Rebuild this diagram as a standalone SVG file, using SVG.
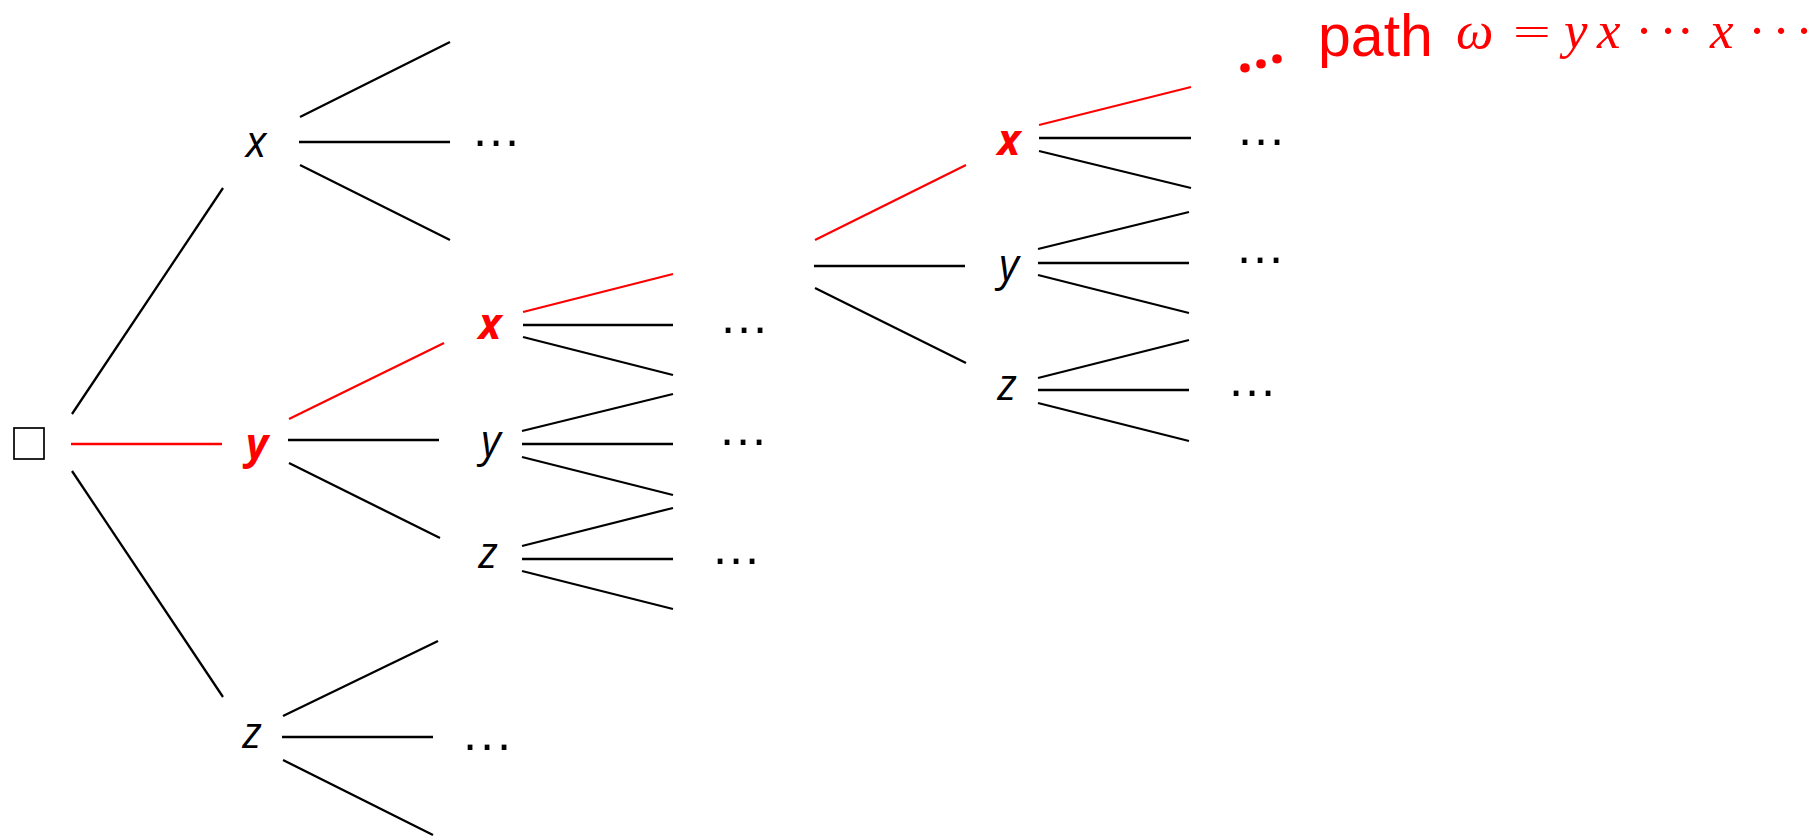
<svg xmlns="http://www.w3.org/2000/svg" width="1820" height="840" viewBox="0 0 1820 840">
  <style>
    .e { stroke: #000; stroke-width: 2.3; fill: none; }
    .e.hot { stroke: #ff0000; }
    .lbl { font-family: "Open Sans", "Noto Sans", sans-serif; font-style: italic; font-size: 43px; fill: #000; text-anchor: middle; }
    .lbl.hot { fill: #ff0000; font-weight: bold; }
    .dots { font-family: "Liberation Sans", Arial, sans-serif; font-size: 50px; fill: #000; text-anchor: middle; }
    .caption { font-family: "Liberation Sans", Arial, sans-serif; font-size: 59px; fill: #ff0000; }
    .trail { font-family: "Open Sans", "Noto Sans", sans-serif; font-size: 56px; font-weight: bold; fill: #ff0000; text-anchor: middle; }
    .math { font-family: "Liberation Serif", "Times New Roman", serif; font-size: 53px; fill: #ff0000; }
    .math .it { font-style: italic; }
    .math .eq { font-family: "DejaVu Sans", sans-serif; font-weight: 200; font-size: 50px; }
  </style>

  <!-- connectors between words of the tree -->
  <g id="connectors">
    <!-- root -->
    <line class="e" x1="72" y1="414" x2="223" y2="188"/>
    <line class="e hot" x1="71" y1="444" x2="222" y2="444"/>
    <line class="e" x1="72" y1="471" x2="223" y2="697"/>
    <!-- x -->
    <line class="e" x1="300" y1="117" x2="450" y2="42"/>
    <line class="e" x1="299" y1="142" x2="450" y2="142"/>
    <line class="e" x1="300" y1="165" x2="450" y2="240"/>
    <!-- y -->
    <line class="e hot" x1="289" y1="419" x2="444" y2="343"/>
    <line class="e" x1="288" y1="440" x2="439" y2="440"/>
    <line class="e" x1="289" y1="463" x2="440" y2="538"/>
    <!-- z -->
    <line class="e" x1="283" y1="716" x2="438" y2="641"/>
    <line class="e" x1="282" y1="737" x2="433" y2="737"/>
    <line class="e" x1="283" y1="760" x2="433" y2="835"/>
    <!-- yx -->
    <line class="e hot" x1="523" y1="312" x2="673" y2="274"/>
    <line class="e" x1="523" y1="325" x2="673" y2="325"/>
    <line class="e" x1="523" y1="337" x2="673" y2="375"/>
    <!-- yy -->
    <line class="e" x1="522" y1="431" x2="673" y2="394"/>
    <line class="e" x1="522" y1="444" x2="673" y2="444"/>
    <line class="e" x1="522" y1="457" x2="673" y2="495"/>
    <!-- yz -->
    <line class="e" x1="522" y1="546" x2="673" y2="508"/>
    <line class="e" x1="522" y1="559" x2="673" y2="559"/>
    <line class="e" x1="522" y1="571" x2="673" y2="609"/>
    <!-- deeper prefix -->
    <line class="e hot" x1="815" y1="240" x2="966" y2="165"/>
    <line class="e" x1="814" y1="266" x2="965" y2="266"/>
    <line class="e" x1="815" y1="288" x2="966" y2="363"/>
    <!-- ...x -->
    <line class="e hot" x1="1039" y1="125" x2="1191" y2="87"/>
    <line class="e" x1="1039" y1="138" x2="1191" y2="138"/>
    <line class="e" x1="1039" y1="151" x2="1191" y2="188"/>
    <!-- ...y -->
    <line class="e" x1="1038" y1="249" x2="1189" y2="212"/>
    <line class="e" x1="1038" y1="263" x2="1189" y2="263"/>
    <line class="e" x1="1038" y1="275" x2="1189" y2="313"/>
    <!-- ...z -->
    <line class="e" x1="1038" y1="378" x2="1189" y2="340"/>
    <line class="e" x1="1038" y1="390" x2="1189" y2="390"/>
    <line class="e" x1="1038" y1="403" x2="1189" y2="441"/>
  </g>

  <!-- empty word -->
  <g id="root">
    <rect x="14" y="428" width="30" height="31" fill="none" stroke="#000" stroke-width="1.7"/>
  </g>

  <!-- first letter -->
  <g id="node-x">
    <text class="lbl" x="256" y="157">x</text>
    <text class="dots" x="480 496 512" y="157">···</text>
  </g>
  <g id="node-y">
    <text class="lbl hot" x="257" y="459">y</text>
  </g>
  <g id="node-z">
    <text class="lbl" x="252" y="748">z</text>
    <text class="dots" x="470 487 504" y="761">···</text>
  </g>

  <!-- second letter after y -->
  <g id="node-yx">
    <text class="lbl hot" x="490" y="339">x</text>
    <text class="dots" x="728 744 760" y="344">···</text>
  </g>
  <g id="node-yy">
    <text class="lbl" x="491" y="456">y</text>
    <text class="dots" x="727 743 759" y="456">···</text>
  </g>
  <g id="node-yz">
    <text class="lbl" x="488" y="568">z</text>
    <text class="dots" x="720 736 752" y="575">···</text>
  </g>

  <!-- later letters -->
  <g id="node-wx">
    <text class="lbl hot" x="1009" y="155">x</text>
    <text class="dots" x="1245 1261 1277" y="156">···</text>
  </g>
  <g id="node-wy">
    <text class="lbl" x="1009" y="280">y</text>
    <text class="dots" x="1244 1260 1276" y="274">···</text>
  </g>
  <g id="node-wz">
    <text class="lbl" x="1007" y="400">z</text>
    <text class="dots" x="1236 1252 1268" y="407">···</text>
  </g>

  <!-- the infinite path -->
  <g id="path-label">
    <text class="trail" x="1245 1261 1277" y="72 68 63">...</text>
    <text class="caption" x="1318" y="56">path</text>
    <text class="math" y="48">
      <tspan class="it" x="1456">ω</tspan>
      <tspan class="eq" x="1511">=</tspan>
      <tspan class="it" x="1564">y</tspan>
      <tspan class="it" x="1597">x</tspan>
      <tspan x="1644 1668 1692" text-anchor="middle">···</tspan>
      <tspan class="it" x="1710">x</tspan>
      <tspan x="1757 1781 1804" text-anchor="middle">···</tspan>
    </text>
  </g>
</svg>
